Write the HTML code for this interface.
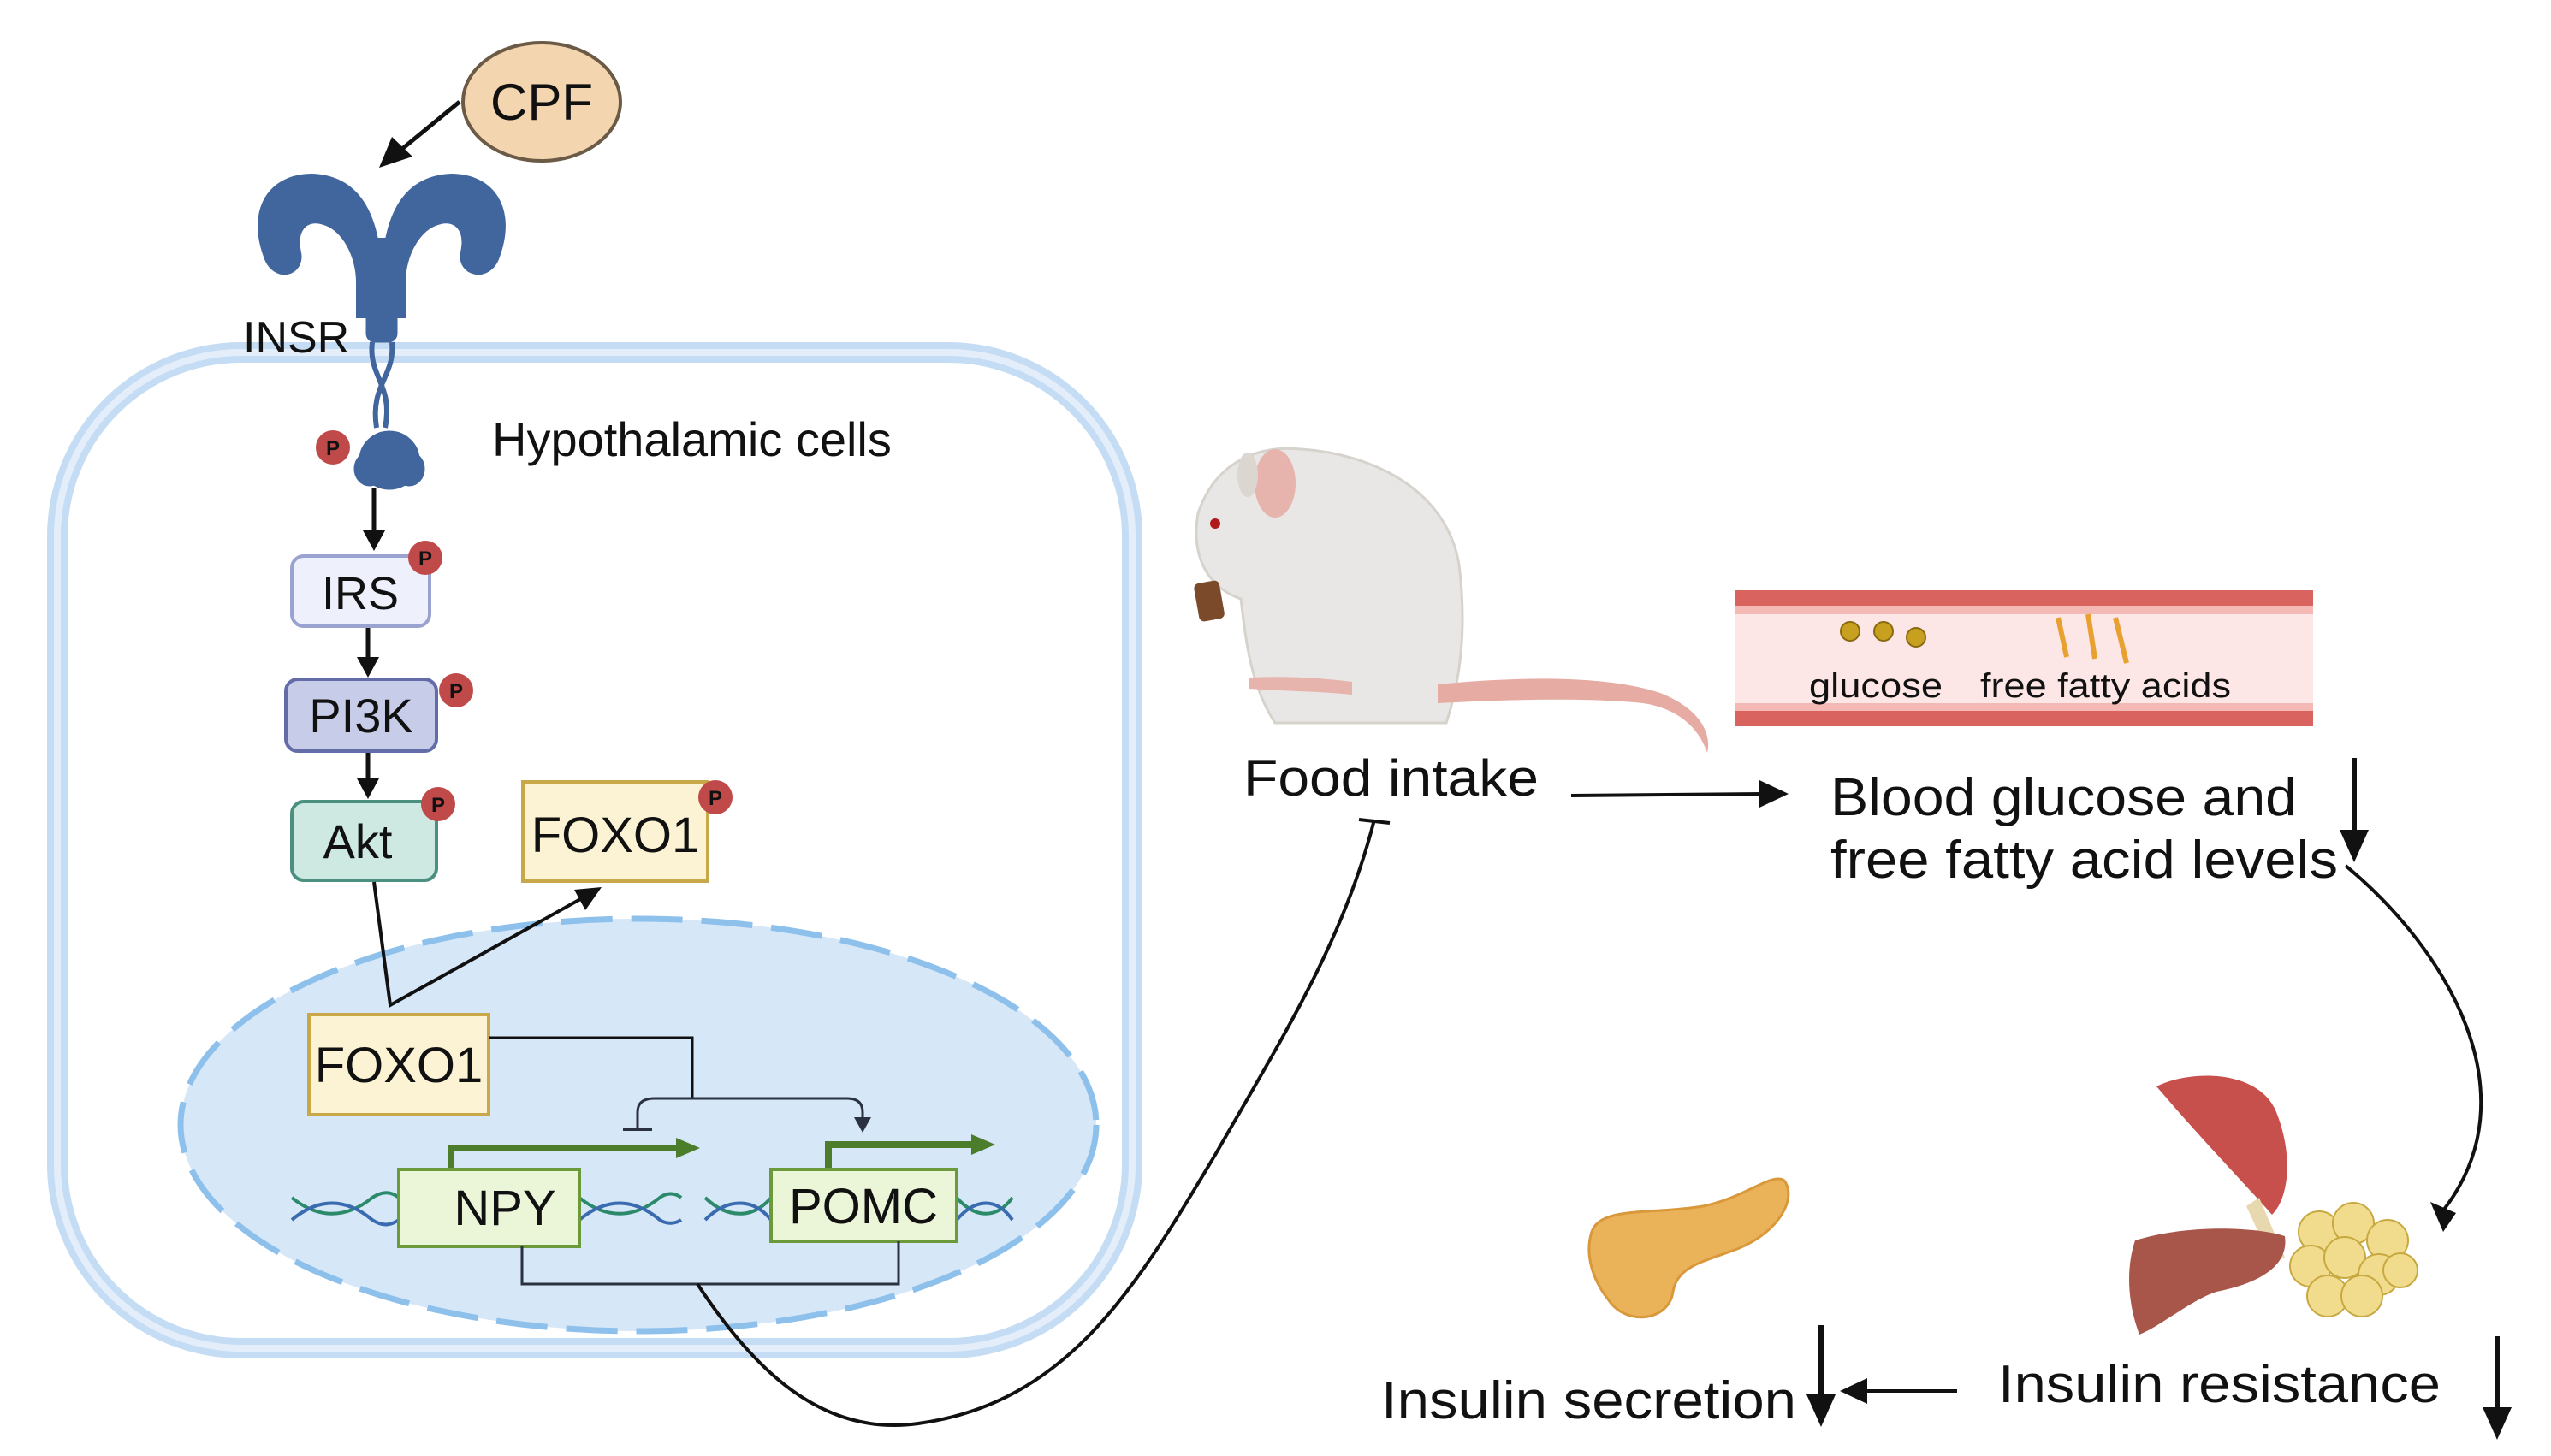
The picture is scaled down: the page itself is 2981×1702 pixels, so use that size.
<!DOCTYPE html>
<html><head><meta charset="utf-8"><style>
html,body{margin:0;padding:0;background:#fff;}
svg{display:block;}
text{font-family:"Liberation Sans",sans-serif;fill:#111;}
</style></head><body>
<svg width="2981" height="1702" viewBox="0 0 2981 1702" xmlns="http://www.w3.org/2000/svg">

<!-- Outer cell -->
<rect x="67" y="412" width="1256" height="1164" rx="215" fill="none" stroke="#c4dcf4" stroke-width="24"/>
<rect x="67" y="412" width="1256" height="1164" rx="215" fill="none" stroke="#e4eefa" stroke-width="8"/>

<!-- Nucleus -->
<ellipse cx="746" cy="1315" rx="535" ry="241" fill="#d6e7f8" stroke="#8ec0ec" stroke-width="7" stroke-dasharray="60 22"/>

<!-- CPF -->
<ellipse cx="633" cy="119" rx="92" ry="69" fill="#f3d5b0" stroke="#6b5a45" stroke-width="4"/>
<text x="633" y="140" font-size="60" text-anchor="middle">CPF</text>
<line x1="537" y1="119" x2="470" y2="174" stroke="#111" stroke-width="5"/>
<polygon points="443,196 458,160 482,183" fill="#111"/>

<!-- Receptor -->
<g fill="#41669d" stroke="#41669d">
<path d="M310,300 C290,245 315,205 365,205 C412,207 432,240 440,280 L452,280 C460,240 480,207 527,205 C577,205 602,245 582,300 C572,330 535,322 540,295 C546,268 532,256 515,260 C488,266 472,300 472,330 L472,370 L418,370 L418,330 C418,300 402,266 375,260 C358,256 344,268 350,295 C355,322 320,330 310,300Z" stroke-width="4"/>
<rect x="428" y="360" width="36" height="40" rx="10"/>
<path d="M435,400 C430,440 460,450 450,500 M458,400 C462,440 432,450 440,500" fill="none" stroke-width="6"/>
<ellipse cx="455" cy="538" rx="35" ry="34"/>
<ellipse cx="432" cy="548" rx="18" ry="20"/>
<ellipse cx="478" cy="548" rx="18" ry="20"/>
</g>
<text x="284" y="412" font-size="52">INSR</text>
<text x="575" y="533" font-size="56">Hypothalamic cells</text>

<!-- cascade arrows -->
<g stroke="#111" stroke-width="5" fill="#111">
<line x1="437" y1="571" x2="437" y2="622"/><polygon points="424,620 450,620 437,644" stroke="none"/>
<line x1="430" y1="734" x2="430" y2="770"/><polygon points="417,768 443,768 430,792" stroke="none"/>
<line x1="430" y1="878" x2="430" y2="912"/><polygon points="417,910 443,910 430,934" stroke="none"/>
</g>

<!-- boxes -->
<rect x="341" y="650" width="161" height="82" rx="14" fill="#eef0fb" stroke="#9aa2cf" stroke-width="4"/>
<text x="421" y="712" font-size="54" text-anchor="middle">IRS</text>
<rect x="334" y="794" width="176" height="84" rx="14" fill="#c7cce8" stroke="#636ca8" stroke-width="4"/>
<text x="422" y="856" font-size="56" text-anchor="middle">PI3K</text>
<rect x="341" y="937" width="169" height="92" rx="14" fill="#cde9e2" stroke="#4b8f80" stroke-width="4"/>
<text x="418" y="1003" font-size="56" text-anchor="middle">Akt</text>
<rect x="611" y="914" width="216" height="116" fill="#fbf3d3" stroke="#c9a84a" stroke-width="4"/>
<text x="719" y="996" font-size="58" text-anchor="middle">FOXO1</text>

<!-- P badges -->
<g font-size="24" font-weight="bold" text-anchor="middle">
<circle cx="389" cy="523" r="20" fill="#c04a4a"/><text x="389" y="532">P</text>
<circle cx="497" cy="652" r="20" fill="#c04a4a"/><text x="497" y="661">P</text>
<circle cx="533" cy="807" r="20" fill="#c04a4a"/><text x="533" y="816">P</text>
<circle cx="512" cy="940" r="20" fill="#c04a4a"/><text x="512" y="949">P</text>
<circle cx="836" cy="932" r="20" fill="#c04a4a"/><text x="836" y="941">P</text>
</g>

<!-- Akt -> FOXO1 -->
<polyline points="437,1031 456,1175 680,1050" fill="none" stroke="#111" stroke-width="4"/>
<polygon points="703,1037 671,1040 684,1064" fill="#111"/>

<rect x="361" y="1186" width="210" height="117" fill="#fbf3d3" stroke="#c9a84a" stroke-width="4"/>
<text x="466" y="1265" font-size="58" text-anchor="middle">FOXO1</text>

<!-- FOXO1 regulation lines -->
<polyline points="571,1213 809,1213 809,1284" fill="none" stroke="#111" stroke-width="3"/>
<path d="M745,1320 L745,1300 Q745,1284 765,1284 L990,1284 Q1008,1284 1008,1300 L1008,1308" fill="none" stroke="#2a3240" stroke-width="3"/>
<line x1="728" y1="1320" x2="762" y2="1320" stroke="#2a3240" stroke-width="4"/>
<polygon points="998,1306 1018,1306 1008,1324" fill="#2a3240"/>

<!-- green arrows -->
<polyline points="527,1367 527,1342 795,1342" fill="none" stroke="#4b7d2a" stroke-width="8"/>
<polygon points="790,1330 818,1342 790,1354" fill="#4b7d2a"/>
<polyline points="968,1367 968,1338 1140,1338" fill="none" stroke="#4b7d2a" stroke-width="8"/>
<polygon points="1135,1326 1163,1338 1135,1350" fill="#4b7d2a"/>

<!-- DNA -->
<g fill="none" stroke-width="4">
<path d="M341,1400 C372,1425 404,1425 435,1400 C450,1390 460,1395 466,1400" stroke="#2a8a6a"/>
<path d="M341,1426 C372,1400 404,1400 435,1426 C450,1436 460,1430 466,1426" stroke="#3a6ab0"/>
<path d="M677,1400 C708,1425 740,1425 771,1400 C780,1393 790,1395 796,1400" stroke="#2a8a6a"/>
<path d="M677,1426 C708,1400 740,1400 771,1426 C780,1432 790,1430 796,1426" stroke="#3a6ab0"/>
<path d="M824,1400 C850,1425 880,1425 901,1400" stroke="#2a8a6a"/>
<path d="M824,1426 C850,1400 880,1400 901,1426" stroke="#3a6ab0"/>
<path d="M1118,1400 C1140,1425 1165,1425 1183,1400" stroke="#2a8a6a"/>
<path d="M1118,1426 C1140,1400 1165,1400 1183,1426" stroke="#3a6ab0"/>
</g>

<rect x="466" y="1367" width="211" height="90" fill="#ebf5d8" stroke="#6c9a3a" stroke-width="4"/>
<text x="590" y="1432" font-size="58" text-anchor="middle">NPY</text>
<rect x="901" y="1367" width="217" height="84" fill="#ebf5d8" stroke="#6c9a3a" stroke-width="4"/>
<text x="1009" y="1430" font-size="58" text-anchor="middle">POMC</text>

<!-- bracket + long curve -->
<polyline points="610,1457 610,1501 1050,1501 1050,1451" fill="none" stroke="#2a3240" stroke-width="3"/>
<path d="M815,1501 C880,1600 960,1680 1073,1664 C1250,1640 1330,1500 1420,1350 C1500,1210 1570,1100 1606,958" fill="none" stroke="#111" stroke-width="4"/>
<line x1="1588" y1="958" x2="1624" y2="962" stroke="#111" stroke-width="4"/>

<!-- Mouse -->
<g>
<path d="M1400,600 C1420,540 1470,520 1520,525 C1600,530 1690,570 1705,660 C1715,740 1705,800 1690,845 L1490,845 C1460,800 1455,740 1450,700 C1420,690 1390,660 1400,600Z" fill="#e9e7e5" stroke="#d6d2cc" stroke-width="3"/>
<ellipse cx="1490" cy="565" rx="24" ry="40" fill="#e7b3ad"/>
<ellipse cx="1458" cy="555" rx="12" ry="26" fill="#dcd6d0"/>
<circle cx="1420" cy="612" r="6" fill="#b01a1a"/>
<rect x="1398" y="680" width="30" height="45" rx="6" fill="#7a4a2a" transform="rotate(-10 1413 702)"/>
<path d="M1460,792 C1500,790 1540,792 1580,797 L1580,812 C1540,808 1500,808 1460,805Z" fill="#e7b3ad"/>
<path d="M1680,800 C1780,790 1880,790 1940,810 C1990,830 2000,860 1995,880 C1985,850 1960,828 1920,822 C1850,815 1760,818 1680,822Z" fill="#e6aba3"/>
</g>
<text x="1453" y="930" font-size="60" textLength="345" lengthAdjust="spacingAndGlyphs">Food intake</text>
<line x1="1836" y1="930" x2="2060" y2="928" stroke="#111" stroke-width="4"/>
<polygon points="2090,928 2056,912 2056,944" fill="#111"/>

<!-- Vessel -->
<rect x="2028" y="690" width="675" height="159" fill="#fde6e6"/>
<rect x="2028" y="690" width="675" height="18" fill="#d9645f"/>
<rect x="2028" y="708" width="675" height="10" fill="#f4b9b4"/>
<rect x="2028" y="822" width="675" height="9" fill="#f4b9b4"/>
<rect x="2028" y="831" width="675" height="18" fill="#d9645f"/>
<g fill="#c8a020" stroke="#8a6a10" stroke-width="2">
<circle cx="2162" cy="738" r="11"/><circle cx="2201" cy="738" r="11"/><circle cx="2239" cy="745" r="11"/>
</g>
<g stroke="#e8a030" stroke-width="6">
<line x1="2405" y1="722" x2="2415" y2="768"/><line x1="2440" y1="718" x2="2448" y2="770"/><line x1="2472" y1="722" x2="2485" y2="775"/>
</g>
<text x="2114" y="815" font-size="40" textLength="156" lengthAdjust="spacingAndGlyphs">glucose</text>
<text x="2314" y="815" font-size="40" textLength="293" lengthAdjust="spacingAndGlyphs">free fatty acids</text>

<text x="2139" y="953" font-size="62" textLength="545" lengthAdjust="spacingAndGlyphs">Blood glucose and</text>
<text x="2139" y="1026" font-size="62" textLength="593" lengthAdjust="spacingAndGlyphs">free fatty acid levels</text>
<line x1="2751" y1="886" x2="2751" y2="975" stroke="#111" stroke-width="6"/>
<polygon points="2734,970 2768,970 2751,1008" fill="#111"/>

<path d="M2741,1012 C2860,1110 2960,1280 2855,1415" fill="none" stroke="#111" stroke-width="4"/>
<polygon points="2855,1440 2840,1405 2870,1418" fill="#111"/>

<!-- muscle, liver, fat -->
<path d="M2520,1270 C2560,1250 2640,1250 2660,1300 C2680,1350 2675,1400 2655,1420 C2620,1380 2580,1340 2520,1270Z" fill="#c8504c"/>
<path d="M2640,1400 L2670,1470 L2655,1475 L2625,1410Z" fill="#e8d8b0"/>
<path d="M2495,1450 C2560,1430 2640,1435 2670,1445 C2675,1480 2640,1500 2590,1510 C2560,1520 2525,1550 2500,1560 C2485,1520 2485,1480 2495,1450Z" fill="#a8564a"/>
<g fill="#f0dc8c" stroke="#c8a840" stroke-width="2">
<circle cx="2710" cy="1440" r="24"/><circle cx="2750" cy="1430" r="24"/><circle cx="2790" cy="1450" r="24"/>
<circle cx="2700" cy="1480" r="24"/><circle cx="2740" cy="1470" r="24"/><circle cx="2780" cy="1490" r="24"/>
<circle cx="2720" cy="1515" r="24"/><circle cx="2760" cy="1515" r="24"/><circle cx="2805" cy="1485" r="20"/>
</g>
<!-- pancreas -->
<path d="M1860,1440 C1870,1410 1930,1420 1990,1410 C2040,1400 2070,1370 2085,1380 C2100,1400 2080,1440 2030,1460 C1990,1475 1960,1480 1955,1510 C1950,1545 1900,1550 1880,1520 C1860,1495 1852,1465 1860,1440Z" fill="#eab35a" stroke="#d9983a" stroke-width="3"/>

<text x="2335" y="1639" font-size="62" textLength="517" lengthAdjust="spacingAndGlyphs">Insulin resistance</text>
<line x1="2918" y1="1562" x2="2918" y2="1650" stroke="#111" stroke-width="6"/>
<polygon points="2901,1645 2935,1645 2918,1683" fill="#111"/>
<text x="1614" y="1658" font-size="62" textLength="485" lengthAdjust="spacingAndGlyphs">Insulin secretion</text>
<line x1="2128" y1="1549" x2="2128" y2="1635" stroke="#111" stroke-width="6"/>
<polygon points="2111,1630 2145,1630 2128,1668" fill="#111"/>
<line x1="2287" y1="1626" x2="2175" y2="1626" stroke="#111" stroke-width="4"/>
<polygon points="2150,1626 2182,1611 2182,1641" fill="#111"/>
</svg>
</body></html>
